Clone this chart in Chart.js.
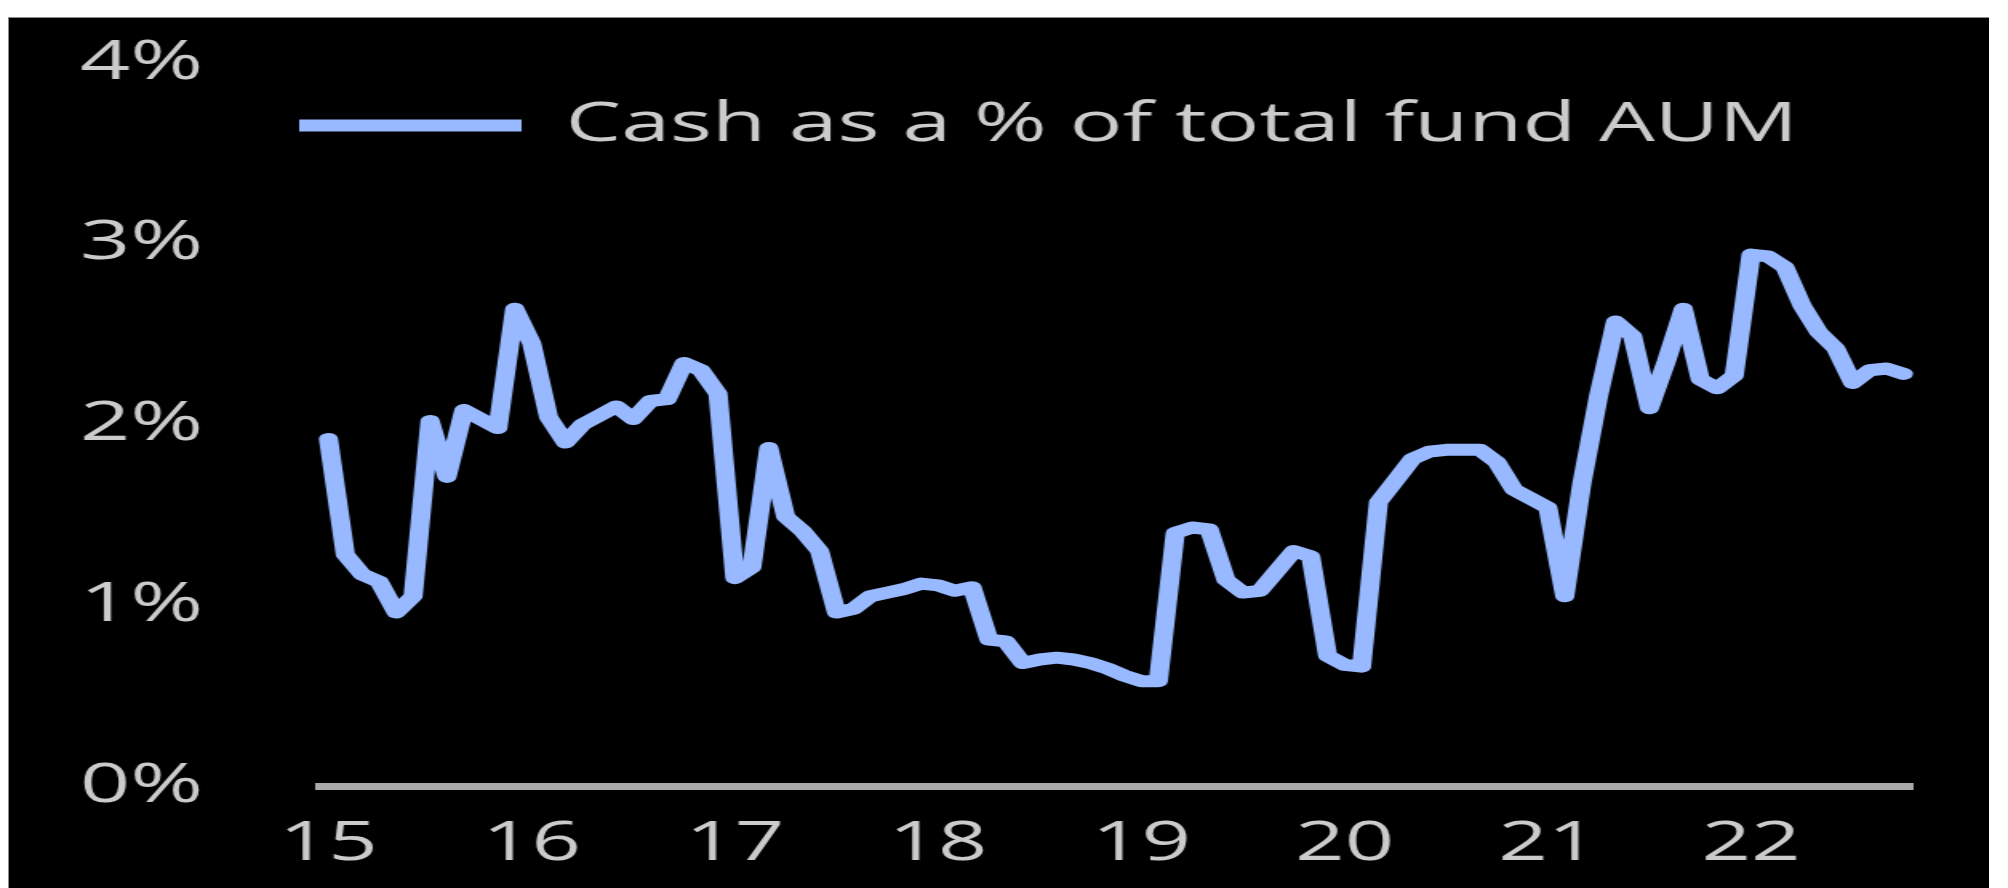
<!DOCTYPE html>
<html><head><meta charset="utf-8">
<script src="https://cdn.jsdelivr.net/npm/chart.js@4.4.1/dist/chart.umd.min.js"></script>
<style>
html,body{margin:0;padding:0;background:#fff;width:2008px;height:888px;overflow:hidden;}
#bg{position:absolute;left:8px;top:17px;width:1980px;height:871px;background:#000;border-top:1px solid #8a8a8a;border-left:1px solid #8a8a8a;}
#wrap{position:absolute;left:0;top:0;width:1255px;height:888px;transform:scaleX(1.6);transform-origin:0 0;}
</style></head><body>
<div id="bg"></div>
<div id="wrap"><canvas id="c"></canvas></div>
<script>
// ---- data ----
const seriesName = 'Cash as a % of total fund AUM';
const yearNames = ['2015','2016','2017','2018','2019','2020','2021','2022'];
const monthNames = ['Jan','Feb','Mar','Apr','May','Jun','Jul','Aug','Sep','Oct','Nov','Dec'];
const yearTicks = ['15','16','17','18','19','20','21','22'];
const yTicks = ['0%','1%','2%','3%','4%'];
const cashPct = [
  1.92,1.28,1.17,1.13,0.96,1.05,2.02,1.71,2.08,2.03,1.98,2.64,
  2.45,2.04,1.90,2.00,2.05,2.10,2.03,2.13,2.14,2.34,2.30,2.17,
  1.15,1.21,1.87,1.49,1.41,1.30,0.96,0.98,1.05,1.07,1.09,1.12,
  1.11,1.08,1.10,0.81,0.80,0.68,0.70,0.71,0.70,0.68,0.65,0.61,
  0.58,0.58,1.40,1.43,1.42,1.14,1.07,1.08,1.19,1.30,1.27,0.72,
  0.67,0.66,1.57,1.69,1.81,1.85,1.86,1.86,1.86,1.79,1.64,1.59,
  1.54,1.05,1.67,2.16,2.57,2.49,2.09,2.35,2.64,2.25,2.20,2.27,
  2.94,2.93,2.87,2.66,2.51,2.42,2.23,2.30,2.31,2.28
];
// month categories Jan 2015 ... (as many as values)
const months = [];
yearNames.forEach(y => monthNames.forEach(m => months.push(m + ' ' + y)));
const categories = months.slice(0, cashPct.length);

// ---- chart ----
Chart.defaults.font.family = "'Open Sans', 'Noto Sans', sans-serif";
const textColor = '#cbcbcb';
const lineColor = '#98b9ff';

const legendInPlot = {
  id: 'legendInPlot',
  afterLayout(chart, args, opts) {
    const lg = chart.legend;
    if (!lg) return;
    const w = lg.width, h = lg.height;
    lg.left = opts.x; lg.top = opts.y;
    lg.right = lg.left + w; lg.bottom = lg.top + h;
  }
};

new Chart(document.getElementById('c'), {
  type: 'line',
  data: {
    labels: categories,
    datasets: [{
      label: seriesName,
      data: cashPct,
      borderColor: lineColor,
      backgroundColor: lineColor,
      borderWidth: 12,
      borderCapStyle: 'round',
      borderJoinStyle: 'round',
      pointRadius: 0,
      tension: 0,
      fill: false
    }]
  },
  plugins: [legendInPlot],
  options: {
    responsive: true,
    maintainAspectRatio: false,
    animation: false,
    layout: { padding: { left: 50, right: 60, top: 63, bottom: 0 } },
    plugins: {
      tooltip: { enabled: false },
      legendInPlot: { x: 187, y: 98 },
      legend: {
        display: true,
        position: 'chartArea',
        align: 'start',
        labels: {
          usePointStyle: true,
          pointStyle: 'line',
          pointStyleWidth: 139,
          padding: 0,
          color: textColor,
          font: { size: 55 }
        }
      }
    },
    scales: {
      x: {
        type: 'category',
        offset: true,
        grid: { display: false, drawTicks: false },
        border: { display: true, color: '#a9a9a9', width: 7 },
        afterFit(scale) { scale.height = 102; },
        ticks: {
          autoSkip: false,
          maxRotation: 0,
          minRotation: 0,
          padding: 26,
          color: textColor,
          font: { size: 54 },
          callback(value) {
            const lab = this.getLabelForValue(value);
            if (lab.startsWith('Jan ')) {
              return yearTicks[yearNames.indexOf(lab.slice(4))];
            }
            return '';
          }
        }
      },
      y: {
        min: 0,
        max: 4,
        grid: { display: false, drawTicks: false },
        border: { display: false },
        afterFit(scale) { scale.width = 150; },
        ticks: {
          stepSize: 1,
          padding: 0,
          crossAlign: 'far',
          color: textColor,
          font: { size: 55 },
          callback(value) { return yTicks[value]; }
        }
      }
    }
  }
});
</script></body></html>
